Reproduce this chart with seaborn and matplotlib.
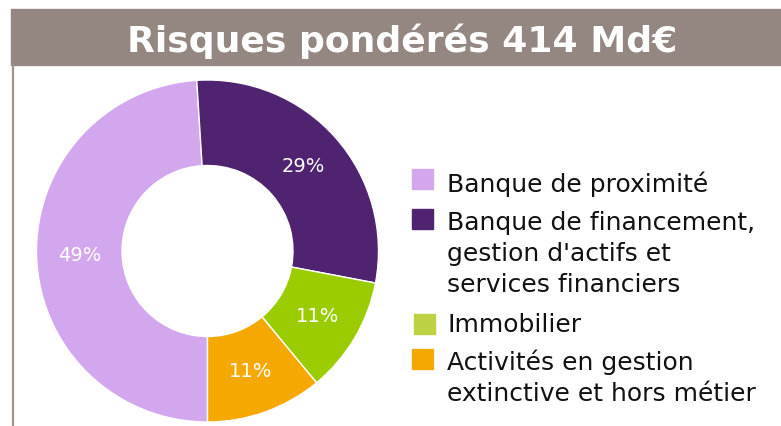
import matplotlib
matplotlib.use("Agg")
import matplotlib.pyplot as plt
from matplotlib.patches import Rectangle
import seaborn as sns

sns.set_style("white")
plt.rcParams['font.family'] = ['DejaVu Sans']

title = "Risques pondérés 414 Md€"
segments = ["Banque de proximité",
            "Banque de financement,\ngestion d'actifs et\nservices financiers",
            "Immobilier",
            "Activités en gestion\nextinctive et hors métier"]
shares = [49, 29, 11, 11]
pie_colors = ["#D3A7EE", "#4F2370", "#9BCC00", "#F5A800"]
legend_colors = ["#D4A6EC", "#4F2370", "#BED142", "#F5A800"]

W, H = 781, 426
fig = plt.figure(figsize=(W / 100, H / 100), dpi=100)


def fx(x):
    return x / W


def fy(y):
    return 1 - y / H


# bandeau titre + filet gauche
fig.patches.append(Rectangle((fx(11), fy(65)), fx(781) - fx(11), fy(9) - fy(65),
                             transform=fig.transFigure, color="#948781", zorder=0))
fig.lines.append(plt.Line2D([fx(12.5), fx(12.5)], [fy(65), fy(426)],
                            transform=fig.transFigure, color="#A09590", lw=1.6))
fig.text(fx(402), fy(52), title, color="white", fontsize=26, fontweight="bold",
         ha="center", va="baseline")

# donut
cx, cy, r = 207.5, 251, 171
ax = fig.add_axes([fx(cx - r), fy(cy + r), 2 * r / W, 2 * r / H])
wedges, _, autotexts = ax.pie(shares, colors=sns.color_palette(pie_colors),
                              startangle=-90, counterclock=False,
                              autopct=lambda p: f"{p:.0f}%", pctdistance=0.75,
                              wedgeprops=dict(width=0.5, edgecolor="white", linewidth=1),
                              textprops=dict(color="white", fontsize=14))
ax.set_xlim(-1, 1)
ax.set_ylim(-1, 1)
ax.set_aspect("equal")
ax.axis("off")

# légende
patch_y = [169, 209, 314, 349]
patch_x = [412, 412, 414, 412]
first_baseline = [192, 230, 332, 370]
pitch = 31
for lab, col, px, py, yb in zip(segments, legend_colors, patch_x, patch_y, first_baseline):
    fig.patches.append(Rectangle((fx(px), fy(py + 20)), 21 / W, 20 / H,
                                 transform=fig.transFigure, color=col))
    for i, line in enumerate(lab.split("\n")):
        fig.text(fx(447), fy(yb + i * pitch), line, fontsize=18, color="#111111",
                 ha="left", va="baseline")

fig.savefig("out.png", dpi=100)
